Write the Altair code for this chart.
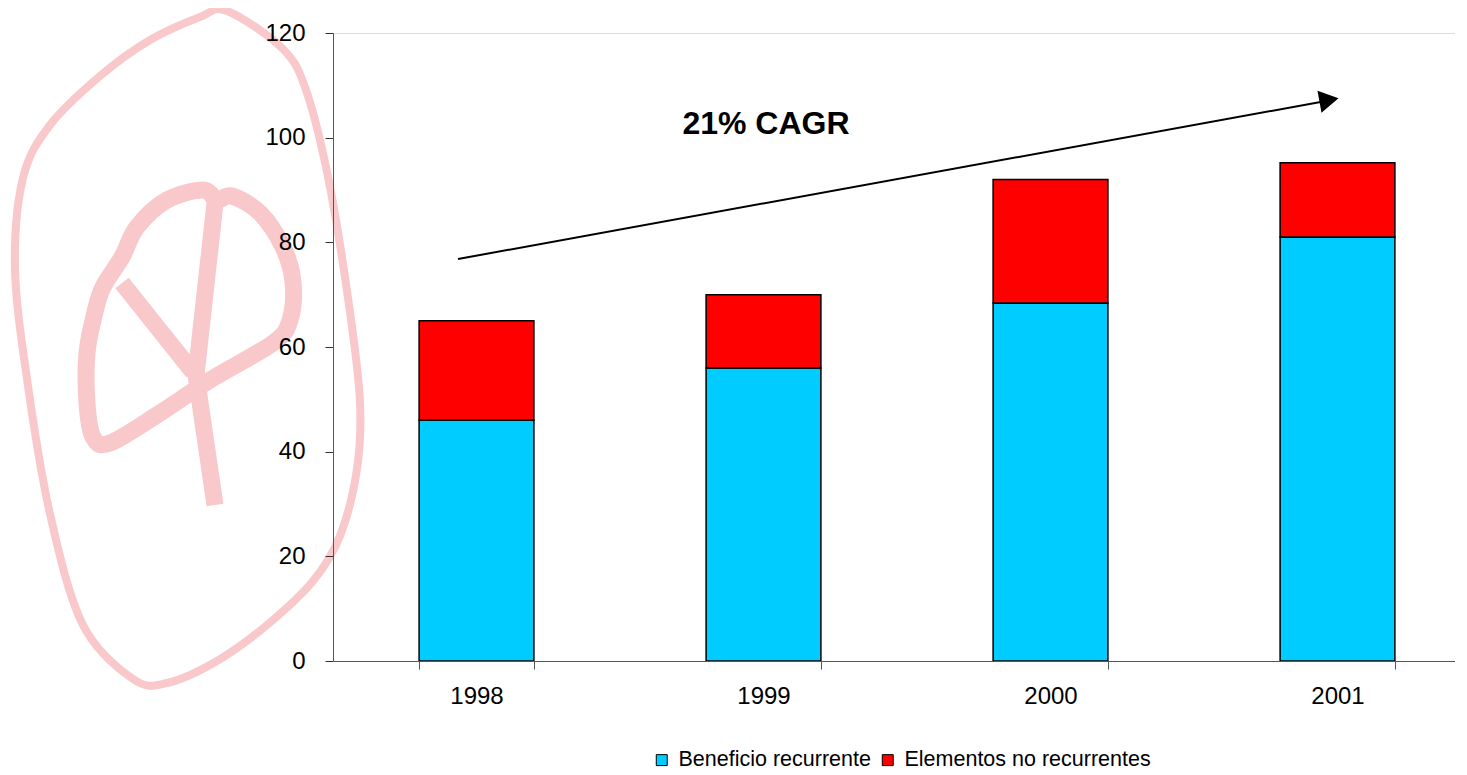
import altair as alt
import pandas as pd

# ---- data ----
years = ["1998", "1999", "2000", "2001"]
recurrente = [46, 56, 68.4, 81]
no_recurrente = [19, 14, 23.6, 14.2]
series_names = ["Beneficio recurrente", "Elementos no recurrentes"]
series_colors = ["#00CCFF", "#FF0000"]
y_ticks = [0, 20, 40, 60, 80, 100, 120]
annotation = ["21% CAGR"]

rows = []
for i, y in enumerate(years):
    rows.append({"year": y, "serie": series_names[0], "value": recurrente[i], "ord": 0})
    rows.append({"year": y, "serie": series_names[1], "value": no_recurrente[i], "ord": 1})
df = pd.DataFrame(rows)

FONT = "Liberation Sans"

# ---- decorative watermark (logo stamp) drawn as custom symbol shapes ----
CX, CY, R = 187, 347, 350
outer_pts = [(227, 11), (283, 49), (307, 93), (330, 187), (350, 312), (360, 402),
             (357, 469), (340, 536), (313, 581), (267, 625), (217, 661), (167, 683),
             (133, 679), (83, 625), (50, 514), (27, 379), (15, 268), (23, 178),
             (50, 125), (100, 76), (150, 40), (200, 17)]
inner_loop = [(103, 287), (122, 257), (137, 227), (167, 200), (203, 190), (217, 200),
              (232, 196), (260, 213), (283, 247), (293, 282), (290, 320), (273, 343),
              (210, 380), (160, 413), (110, 443), (93, 437), (87, 403), (87, 353),
              (95, 312)]
spoke1 = [(122, 283), (193, 372)]
spoke2 = [(215, 203), (196, 375), (215, 505)]


def sx(px):
    return (px - CX) / R


def sy(py):
    return (py - CY) / R


def smooth_closed(pts):
    n = len(pts)
    s = f"M {sx(pts[0][0]):.4f} {sy(pts[0][1]):.4f}"
    for i in range(n):
        p0 = pts[(i - 1) % n]
        p1 = pts[i]
        p2 = pts[(i + 1) % n]
        p3 = pts[(i + 2) % n]
        c1 = (p1[0] + (p2[0] - p0[0]) / 6, p1[1] + (p2[1] - p0[1]) / 6)
        c2 = (p2[0] - (p3[0] - p1[0]) / 6, p2[1] - (p3[1] - p1[1]) / 6)
        s += (f" C {sx(c1[0]):.4f} {sy(c1[1]):.4f} {sx(c2[0]):.4f} {sy(c2[1]):.4f}"
              f" {sx(p2[0]):.4f} {sy(p2[1]):.4f}")
    return s + " Z"


def polyline(pts):
    return " ".join(("M" if k == 0 else "L") + f" {sx(px):.4f} {sy(py):.4f}"
                    for k, (px, py) in enumerate(pts))


outer_path = smooth_closed(outer_pts)
inner_path = smooth_closed(inner_loop) + " " + polyline(spoke1) + " " + polyline(spoke2)

one = pd.DataFrame({"a": [0]})
PLOT_X0, PLOT_Y0 = 333, 33
wm_x = CX - PLOT_X0
wm_y = CY - PLOT_Y0
WM_COLOR = "#F9C8CA"

wm_outer = alt.Chart(one).mark_point(
    shape=outer_path, filled=False, stroke=WM_COLOR, strokeWidth=8,
    strokeJoin="round", opacity=1, size=(2 * R) ** 2
).encode(x=alt.value(wm_x), y=alt.value(wm_y))

wm_inner = alt.Chart(one).mark_point(
    shape=inner_path, filled=False, stroke=WM_COLOR, strokeWidth=17,
    strokeJoin="round", strokeCap="butt", opacity=1, size=(2 * R) ** 2
).encode(x=alt.value(wm_x), y=alt.value(wm_y))

# ---- bars ----
bars = alt.Chart(df).mark_bar(stroke="black", strokeWidth=1.5).encode(
    x=alt.X("year:N", sort=years,
            scale=alt.Scale(range=[0, 1148], paddingInner=0.6, paddingOuter=0.3),
            axis=alt.Axis(title=None, labelAngle=0, labelFont=FONT, labelFontSize=24,
                          labelColor="black", tickBand="extent", tickSize=8,
                          tickColor="#555", domainColor="#555", labelPadding=15,
                          zindex=1)),
    y=alt.Y("value:Q", stack="zero",
            scale=alt.Scale(domain=[0, 120], nice=False),
            axis=alt.Axis(title=None, values=y_ticks, grid=False, labelFont=FONT,
                          labelFontSize=24, labelColor="black", tickSize=8,
                          tickColor="#333", domainColor="#555", labelPadding=20,
                          zindex=1)),
    color=alt.Color("serie:N",
                    scale=alt.Scale(domain=series_names, range=series_colors),
                    legend=alt.Legend(title=None, orient="none", legendX=318, legendY=716,
                                      direction="horizontal", symbolType="square",
                                      symbolSize=120, symbolStrokeColor="black",
                                      symbolStrokeWidth=1, labelFont=FONT,
                                      labelFontSize=21.5, labelColor="black",
                                      columnPadding=6, labelOffset=6, labelLimit=400,
                                      padding=0)),
    order=alt.Order("ord:Q"),
)

# ---- arrow annotation ----
ax0, ay0 = 458 - PLOT_X0, 259 - PLOT_Y0
ax1, ay1 = 1326 - PLOT_X0, 101 - PLOT_Y0
arrow_line = alt.Chart(one).mark_rule(color="black", strokeWidth=2).encode(
    x=alt.value(ax0), y=alt.value(ay0), x2=alt.value(ax1), y2=alt.value(ay1)
)
arrow_head = alt.Chart(one).mark_point(
    shape="triangle-right", filled=True, color="black", opacity=1, size=500, angle=349.7
).encode(x=alt.value(1329 - PLOT_X0), y=alt.value(100 - PLOT_Y0))

label = alt.Chart(pd.DataFrame({"t": annotation})).mark_text(
    font=FONT, fontSize=32, fontWeight="bold", color="black", align="center",
    baseline="middle"
).encode(text="t:N", x=alt.value(766 - PLOT_X0), y=alt.value(124 - PLOT_Y0))

chart = alt.layer(wm_outer, wm_inner, bars, arrow_line, arrow_head, label).properties(
    width=1122, height=628,
    autosize=alt.AutoSizeParams(type="none"),
    padding={"left": 325, "top": 25, "right": 0, "bottom": 113},
).configure_view(stroke=None).configure(background="white")

chart.save("out.html", embed_options={"renderer": "svg", "actions": False})
